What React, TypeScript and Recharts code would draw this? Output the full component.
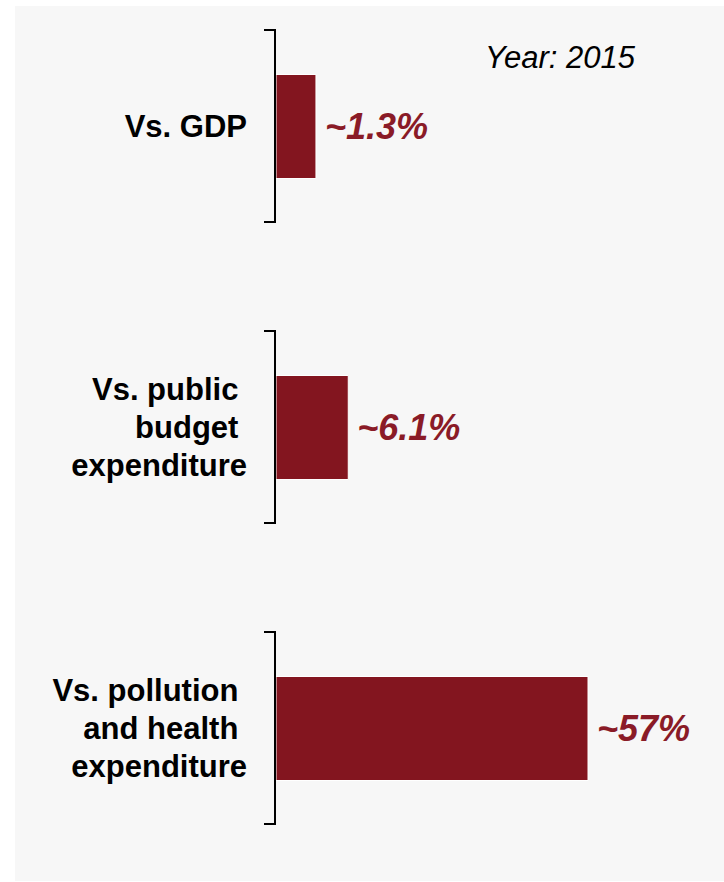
import React from "react";
import { BarChart, Bar, XAxis, YAxis, LabelList, Customized } from "recharts";

// ---- data ----
const categories = [
  "Vs. GDP",
  "Vs. public budget expenditure",
  "Vs. pollution and health expenditure",
];
const categoryLines = [
  ["Vs. GDP"],
  ["Vs. public ", "budget ", "expenditure"],
  ["Vs. pollution ", "and health ", "expenditure"],
];
const shareValues = [1.3, 6.1, 57];
const shareLabels = ["~1.3%", "~6.1%", "~57%"];
// bars in the original are not drawn to scale: lengths as drawn, in units of the 57% bar
const barLengths = [7.3, 13.2, 57];
const yearLabel = "Year: 2015";

const data = categories.map((name, i) => ({
  name,
  value: shareValues[i],
  length: barLengths[i],
  label: shareLabels[i],
  lines: categoryLines[i],
}));

const FONT = "'Liberation Sans', Arial, Helvetica, sans-serif";
const BAR_COLOR = "#83151f";
const LABEL_COLOR = "#8a1b27";

const CategoryTick = (props: any) => {
  const { y, payload } = props;
  const idx = categories.indexOf(payload.value);
  const lines = categoryLines[idx] || [payload.value];
  const lineH = 38;
  const first = y + 11 - ((lines.length - 1) * lineH) / 2;
  const bx = 275;
  const half = 96;
  return (
    <g>
      {lines.map((l: string, i: number) => (
        <text
          key={i}
          x={247}
          y={first + i * lineH}
          textAnchor="end"
          xmlSpace="preserve"
          style={{ whiteSpace: "pre" }}
          fontFamily={FONT}
          fontWeight="bold"
          fontSize={31}
          fill="#000"
        >
          {l}
        </text>
      ))}
      <path
        d={`M ${bx - 11} ${y - half} H ${bx} V ${y + half} H ${bx - 11}`}
        fill="none"
        stroke="#000"
        strokeWidth={2}
      />
    </g>
  );
};

const ValueLabel = (props: any) => {
  const { x, y, width, height, value } = props;
  return (
    <text
      x={x + width + 9}
      y={y + height / 2 + 12}
      fontFamily={FONT}
      fontWeight="bold"
      fontStyle="italic"
      fontSize={36}
      fill={LABEL_COLOR}
    >
      {value}
    </text>
  );
};

const YearText = () => (
  <text
    x={485}
    y={68}
    fontFamily={FONT}
    fontStyle="italic"
    fontSize={31}
    fill="#000"
  >
    {yearLabel}
  </text>
);

export default function App() {
  return (
    <div
      style={{
        position: "absolute",
        left: 0,
        top: 0,
        width: 724,
        height: 882,
        background: "#ffffff",
      }}
    >
      <div
        style={{
          position: "absolute",
          left: 15,
          top: 6,
          width: 709,
          height: 875,
          background: "#f7f7f7",
        }}
      />
      <div style={{ position: "absolute", left: 0, top: 0 }}>
        <BarChart
          width={724}
          height={882}
          data={data}
          layout="vertical"
          margin={{ top: -24.5, right: 136, bottom: 3.5, left: 0 }}
          barCategoryGap={0}
        >
          <XAxis type="number" domain={[0, 57]} hide />
          <YAxis
            type="category"
            dataKey="name"
            width={276}
            axisLine={false}
            tickLine={false}
            tick={<CategoryTick />}
            interval={0}
          />
          <Bar
            dataKey="length"
            fill={BAR_COLOR}
            stroke="#ffffff"
            strokeWidth={1}
            barSize={104}
            isAnimationActive={false}
          >
            <LabelList dataKey="label" content={<ValueLabel />} />
          </Bar>
          <Customized component={YearText} />
        </BarChart>
      </div>
    </div>
  );
}
